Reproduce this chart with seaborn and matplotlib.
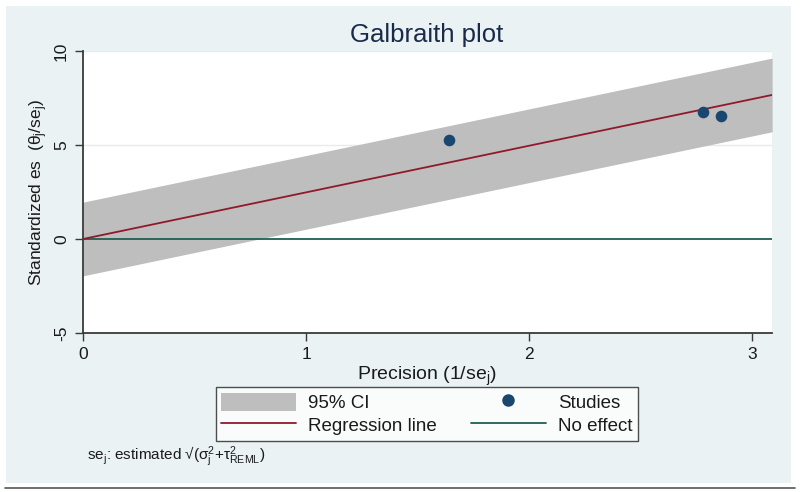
import matplotlib
matplotlib.use("Agg")
import matplotlib.pyplot as plt
import seaborn as sns
import numpy as np
import pandas as pd
from matplotlib.patches import Rectangle, Patch
from matplotlib.lines import Line2D

# ---- data ----
precision = [1.64, 2.78, 2.86]          # 1/se_j
std_es = [5.27, 6.76, 6.54]             # theta_j/se_j
reg_slope = 2.48                         # slope of regression line through origin
ci_half_width = 1.96                     # 95% CI half-width around regression line
line_x = [0.0, 3.09]
x_ticks = [0, 1, 2, 3]
y_ticks = [-5, 0, 5, 10]

sns.set_theme(style="white")
plt.rcParams['font.family'] = ['Liberation Sans', 'DejaVu Sans']
plt.rcParams['mathtext.fontset'] = 'custom'
plt.rcParams['mathtext.rm'] = 'Liberation Sans'
plt.rcParams['mathtext.it'] = 'Liberation Sans:italic'

BG = "#EAF2F3"
NAVY = "#1A476F"
RED = "#90192B"
GREEN = "#1F5F50"
BAND = "#BEBEBE"
TXT = "#1a1a1a"

fig = plt.figure(figsize=(8, 4.92), dpi=100)
fig.patch.set_facecolor("white")
fig.patches.append(Rectangle((6/800, 1-483/492), 785/800, 477/492,
                             transform=fig.transFigure, facecolor=BG,
                             edgecolor="none", zorder=-10))
fig.add_artist(Line2D([5/800, 795/800], [1-488/492, 1-488/492],
                      transform=fig.transFigure, color="#555555", lw=1.2))

ax = fig.add_axes([83/800, 1-333/492, (771.7-83)/800, (333-51)/492])
ax.set_facecolor("white")

lx = np.array(line_x)
ly = reg_slope * lx
ax.fill_between(lx, ly - ci_half_width, ly + ci_half_width, color=BAND,
                linewidth=0, zorder=1)
ax.axhline(5, color="#E4ECEE", lw=1, zorder=0.5)
ax.axhline(10, color="#E4ECEE", lw=1, zorder=0.5)

df_line = pd.DataFrame({"x": lx, "y": ly})
sns.lineplot(data=df_line, x="x", y="y", color=RED, lw=1.3, ax=ax, zorder=3)
df_zero = pd.DataFrame({"x": lx, "y": [0, 0]})
sns.lineplot(data=df_zero, x="x", y="y", color=GREEN, lw=1.3, ax=ax, zorder=2)
df_pts = pd.DataFrame({"x": precision, "y": std_es})
sns.scatterplot(data=df_pts, x="x", y="y", color=NAVY, s=70, edgecolor=NAVY,
                linewidth=0, ax=ax, zorder=4)

ax.set_xlim(0, 3.088)
ax.set_ylim(-5, 10)
ax.set_xticks(x_ticks)
ax.set_yticks(y_ticks)
ax.set_xticklabels([str(t) for t in x_ticks])
ax.set_yticklabels([str(t) for t in y_ticks], rotation=90, va="center")
for s in ["top", "right"]:
    ax.spines[s].set_visible(False)
for s in ["left", "bottom"]:
    ax.spines[s].set_color("#3a3a3a")
    ax.spines[s].set_linewidth(1.3)
ax.tick_params(axis="both", which="both", direction="out", length=6, width=1,
               color="#3a3a3a", labelsize=12.5, labelcolor=TXT, pad=4,
               left=True, bottom=True)

ax.set_xlabel(r"Precision (1/se$_\mathregular{j}$)", fontsize=14, color=TXT, labelpad=2)
ax.set_ylabel(r"Standardized es  (θ$_\mathregular{j}$/se$_\mathregular{j}$)",
              fontsize=12.5, color=TXT, labelpad=3)
fig.text(427/800, 1-35/492, "Galbraith plot", ha="center", va="center",
         fontsize=18.5, color="#1a2a4a")

handles = [Patch(facecolor=BAND, edgecolor="none", label="95% CI"),
           Line2D([], [], color=RED, lw=1.3, label="Regression line"),
           Line2D([], [], marker="o", color="none", markerfacecolor=NAVY,
                  markeredgecolor=NAVY, markersize=8, label="Studies"),
           Line2D([], [], color=GREEN, lw=1.3, label="No effect")]
leg = fig.legend(handles=handles, ncol=2, loc="upper center",
                 bbox_to_anchor=(427/800, 1-387/492), frameon=True,
                 fancybox=False, edgecolor="#222222", facecolor="white",
                 fontsize=13.5, handlelength=4.0, handleheight=1.1,
                 columnspacing=1.8, labelspacing=0.2, borderpad=0.3,
                 borderaxespad=0, handletextpad=0.65)
leg.get_frame().set_linewidth(1.0)
for t in leg.get_texts():
    t.set_color(TXT)

fig.text(87/800, 1-457/492,
         r"se$_\mathregular{j}$: estimated √(σ$_\mathregular{j}^\mathregular{2}$+τ$^\mathregular{2}_\mathregular{REML}$)",
         ha="left", va="center", fontsize=11, color=TXT)

fig.savefig("out.png", dpi=100, facecolor=fig.get_facecolor())
